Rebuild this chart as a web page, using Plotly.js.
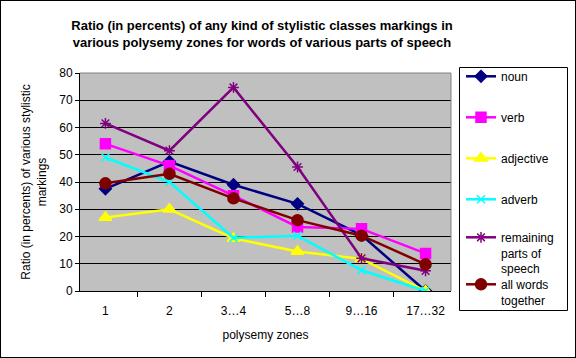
<!DOCTYPE html>
<html>
<head>
<meta charset="utf-8">
<script src="https://cdn.plot.ly/plotly-3.0.1.min.js"></script>
<style>
html,body{margin:0;padding:0;background:#fff;}
#wrap{width:576px;height:358px;box-sizing:border-box;border:1px solid #000;overflow:hidden;}
#chart{width:574px;height:356px;}
</style>
</head>
<body>
<div id="wrap"><div id="chart"></div></div>
<script>
const zones = ["1", "2", "3…4", "5…8", "9…16", "17…32"];
const noun = [37.5, 47.5, 39, 32, 20.5, 0];
const verb = [54, 46, 35, 23.5, 22.8, 13.8];
const adjective = [27, 30, 19.3, 14.5, 11.8, 0];
const adverb = [49, 40, 19.5, 20.3, 7.6, 0];
const remaining = [61.5, 51.5, 74.7, 45.5, 12, 7.4];
const allWords = [39.5, 43, 34, 26, 20.3, 9.8];

const seriesNames = ["noun", "verb", "adjective", "adverb", "remaining<br>parts of<br>speech", "all words<br>together"];
const seriesData = [noun, verb, adjective, adverb, remaining, allWords];
const colors = ["#000080", "#FF00FF", "#FFFF00", "#00FFFF", "#800080", "#800000"];
const symbols = ["diamond", "square", "triangle-up", "x-thin-open", "asterisk-open", "circle"];
const sizes = [9, 10, 11, 8, 9, 11];

const W = 574, H = 356;
const M = {l: 79, r: 124, t: 72, b: 66};
const legendIds = ["legend", "legend2", "legend3", "legend4", "legend5", "legend6"];
// item centre rows (div coords) of the legend entries
const legendRows = [77, 118, 159, 200, 238, 285];

const traces = seriesData.map((d, i) => ({
  x: zones,
  y: d,
  type: "scatter",
  mode: "lines+markers",
  name: seriesNames[i],
  legend: legendIds[i],
  line: {color: colors[i], width: 2.5},
  marker: {symbol: symbols[i], size: sizes[i], color: colors[i], line: {color: colors[i], width: 1.5}}
}));

const FONT = "Liberation Sans, Arial, sans-serif";
const pw = W - M.l - M.r, ph = H - M.t - M.b;

const layout = {
  width: W,
  height: H,
  margin: M,
  paper_bgcolor: "#ffffff",
  plot_bgcolor: "#C0C0C0",
  font: {family: FONT, size: 12, color: "#000"},
  title: {
    text: "<b>Ratio (in percents) of any kind of stylistic classes markings in<br>various polysemy zones for words of various parts of speech</b>",
    font: {size: 13, family: FONT, color: "#000"},
    x: 261 / W, xanchor: "center", xref: "container",
    y: 1 - 29 / H, yanchor: "top", yref: "container"
  },
  xaxis: {
    type: "category",
    tickson: "boundaries",
    ticks: "outside",
    ticklen: 5,
    tickcolor: "#000",
    showline: true,
    linecolor: "#000",
    linewidth: 1,
    showgrid: false,
    zeroline: false,
    ticklabelstandoff: 9,
    tickfont: {size: 12},
    title: {text: "polysemy zones", font: {size: 12}, standoff: 13}
  },
  yaxis: {
    range: [0, 80],
    dtick: 10,
    ticks: "outside",
    ticklen: 4,
    tickcolor: "#000",
    showline: true,
    linecolor: "#000",
    linewidth: 1,
    showgrid: true,
    gridcolor: "#000",
    gridwidth: 1,
    zeroline: false,
    tickfont: {size: 12},
    title: {text: "Ratio (in percents) of various stylistic<br>markings", font: {size: 12}, standoff: 10}
  },
  shapes: [
    {type: "line", xref: "paper", yref: "paper", x0: 0, x1: 1, y0: 1, y1: 1, line: {color: "#808080", width: 1}},
    {type: "line", xref: "paper", yref: "paper", x0: 1, x1: 1, y0: 0, y1: 1, line: {color: "#808080", width: 1}},
    {type: "rect", xref: "paper", yref: "paper",
     x0: (458.5 - M.l) / pw, x1: (566.5 - M.l) / pw,
     y0: (M.t + ph - 309.5) / ph, y1: (M.t + ph - 66.5) / ph,
     line: {color: "#000", width: 1}, fillcolor: "rgba(0,0,0,0)"}
  ],
  showlegend: true
};

legendIds.forEach((id, i) => {
  layout[id] = {
    xref: "container", yref: "container",
    x: 460 / W, y: 1 - (legendRows[i] - 16) / H,
    xanchor: "left", yanchor: "top",
    borderwidth: 0,
    bgcolor: "rgba(0,0,0,0)",
    font: {size: 12, family: FONT},
    itemwidth: 30,
    valign: "top"
  };
});

Plotly.newPlot("chart", traces, layout, {displayModeBar: false, staticPlot: true});
</script>
</body>
</html>
